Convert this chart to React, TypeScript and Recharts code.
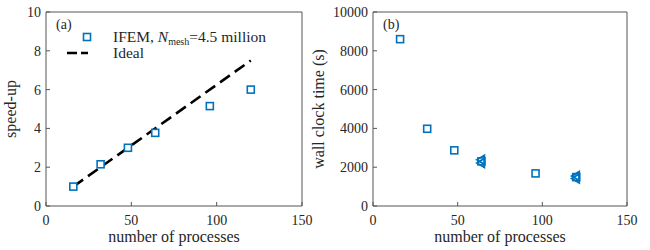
import { Scatter, ScatterChart, XAxis, YAxis } from 'recharts'

const processes = [16, 32, 48, 64, 96, 120]
const speedUp = [1, 2.15, 3, 3.77, 5.15, 6]
const idealProcesses = [16, 120]
const idealSpeedUp = [1, 7.5]
const wallClock = [8600, 3980, 2870, 2300, 1680, 1490]
const repeatProcesses = [64, 64, 120, 120]
const repeatWallClock = [2380, 2220, 1540, 1420]
const xTicks = [0, 50, 100, 150]
const speedTicks = [0, 2, 4, 6, 8, 10]
const timeTicks = [0, 2000, 4000, 6000, 8000, 10000]

const BLUE = '#0072BD'
const AXIS = '#555555'
const TEXT = '#262626'
const FONT = '"Liberation Serif", "DejaVu Serif", serif'

const speedData = processes.map((x, i) => ({ x, y: speedUp[i] }))
const idealData = idealProcesses.map((x, i) => ({ x, y: idealSpeedUp[i] }))
const timeData = processes.map((x, i) => ({ x, y: wallClock[i] }))
const repeatData = repeatProcesses.map((x, i) => ({ x, y: repeatWallClock[i] }))

const SquareMark = (props: any) => {
  const { cx, cy } = props
  return <rect x={cx - 3.5} y={cy - 3.5} width={7} height={7} fill="#fff" stroke={BLUE} strokeWidth={1.6} />
}

const LeftTriangle = (props: any) => {
  const { cx, cy } = props
  return (
    <polygon
      points={`${cx - 4.5},${cy} ${cx + 3},${cy - 4.5} ${cx + 3},${cy + 4.5}`}
      fill="none"
      stroke={BLUE}
      strokeWidth={1.8}
    />
  )
}

const NoMark = () => <g />

const tickStyle = { fill: TEXT, fontSize: 14, fontFamily: FONT }
const labelStyle = { fill: TEXT, fontSize: 16, fontFamily: FONT, textAnchor: 'middle' as const }

function SpeedUpPanel() {
  return (
    <div style={{ position: 'absolute', left: 0, top: 0, width: 320, height: 250 }}>
      <ScatterChart width={320} height={250} margin={{ top: 11, right: 17, bottom: 0, left: 0 }}>
        <XAxis
          xAxisId="b"
          type="number"
          dataKey="x"
          domain={[0, 150]}
          ticks={xTicks}
          height={44}
          tickSize={-4}
          tickMargin={13}
          stroke={AXIS}
          tick={tickStyle}
          label={{ value: 'number of processes', position: 'insideBottom', offset: 8, style: labelStyle }}
        />
        <XAxis
          xAxisId="t"
          orientation="top"
          type="number"
          dataKey="x"
          domain={[0, 150]}
          ticks={xTicks}
          height={1}
          tickSize={-4}
          tickFormatter={() => ''}
          stroke={AXIS}
        />
        <YAxis
          yAxisId="l"
          type="number"
          dataKey="y"
          domain={[0, 10]}
          ticks={speedTicks}
          width={46}
          tickSize={-4}
          tickMargin={9}
          stroke={AXIS}
          tick={tickStyle}
          label={{ value: 'speed-up', angle: -90, position: 'insideLeft', offset: 10, style: labelStyle }}
        />
        <YAxis
          yAxisId="r"
          orientation="right"
          type="number"
          dataKey="y"
          domain={[0, 10]}
          ticks={speedTicks}
          width={1}
          tickSize={-4}
          tickFormatter={() => ''}
          stroke={AXIS}
        />
        <Scatter
          xAxisId="b"
          yAxisId="l"
          data={idealData}
          line={{ stroke: '#000', strokeWidth: 2.6, strokeDasharray: '12 6' }}
          shape={NoMark}
          isAnimationActive={false}
        />
        <Scatter xAxisId="b" yAxisId="l" data={speedData} shape={SquareMark} isAnimationActive={false} />
      </ScatterChart>
      <svg width={320} height={250} style={{ position: 'absolute', left: 0, top: 0, pointerEvents: 'none' }}>
        <text x={56} y={29} fontSize={14} fontFamily={FONT} fill={TEXT}>(a)</text>
        <rect x={83.5} y={33.5} width={7} height={7} fill="#fff" stroke={BLUE} strokeWidth={1.6} />
        <text x={113} y={42} fontSize={15.5} fontFamily={FONT} fill={TEXT}>
          IFEM, <tspan fontStyle="italic">N</tspan>
          <tspan fontSize={10} dy={3}>mesh</tspan>
          <tspan dy={-3}>=4.5 million</tspan>
        </text>
        <line x1={67} y1={53} x2={88} y2={53} stroke="#000" strokeWidth={2.6} strokeDasharray="10 4" />
        <text x={113} y={58} fontSize={15.5} fontFamily={FONT} fill={TEXT}>Ideal</text>
      </svg>
    </div>
  )
}

function WallClockPanel() {
  return (
    <div style={{ position: 'absolute', left: 310, top: 0, width: 340, height: 250 }}>
      <ScatterChart width={340} height={250} margin={{ top: 11, right: 22, bottom: 0, left: 0 }}>
        <XAxis
          xAxisId="b"
          type="number"
          dataKey="x"
          domain={[0, 150]}
          ticks={xTicks}
          height={44}
          tickSize={-4}
          tickMargin={13}
          stroke={AXIS}
          tick={tickStyle}
          label={{ value: 'number of processes', position: 'insideBottom', offset: 8, style: labelStyle }}
        />
        <XAxis
          xAxisId="t"
          orientation="top"
          type="number"
          dataKey="x"
          domain={[0, 150]}
          ticks={xTicks}
          height={1}
          tickSize={-4}
          tickFormatter={() => ''}
          stroke={AXIS}
        />
        <YAxis
          yAxisId="l"
          type="number"
          dataKey="y"
          domain={[0, 10000]}
          ticks={timeTicks}
          width={63}
          tickSize={-4}
          tickMargin={9}
          stroke={AXIS}
          tick={tickStyle}
          label={{ value: 'wall clock time (s)', angle: -90, position: 'insideLeft', offset: 8, style: labelStyle }}
        />
        <YAxis
          yAxisId="r"
          orientation="right"
          type="number"
          dataKey="y"
          domain={[0, 10000]}
          ticks={timeTicks}
          width={1}
          tickSize={-4}
          tickFormatter={() => ''}
          stroke={AXIS}
        />
        <Scatter xAxisId="b" yAxisId="l" data={timeData} shape={SquareMark} isAnimationActive={false} />
        <Scatter xAxisId="b" yAxisId="l" data={repeatData} shape={LeftTriangle} isAnimationActive={false} />
      </ScatterChart>
      <svg width={340} height={250} style={{ position: 'absolute', left: 0, top: 0, pointerEvents: 'none' }}>
        <text x={73} y={29} fontSize={14} fontFamily={FONT} fill={TEXT}>(b)</text>
      </svg>
    </div>
  )
}

export default function App() {
  return (
    <div style={{ position: 'absolute', left: 0, top: 0, width: 650, height: 250, background: '#fff', fontFamily: FONT }}>
      <SpeedUpPanel />
      <WallClockPanel />
    </div>
  )
}
